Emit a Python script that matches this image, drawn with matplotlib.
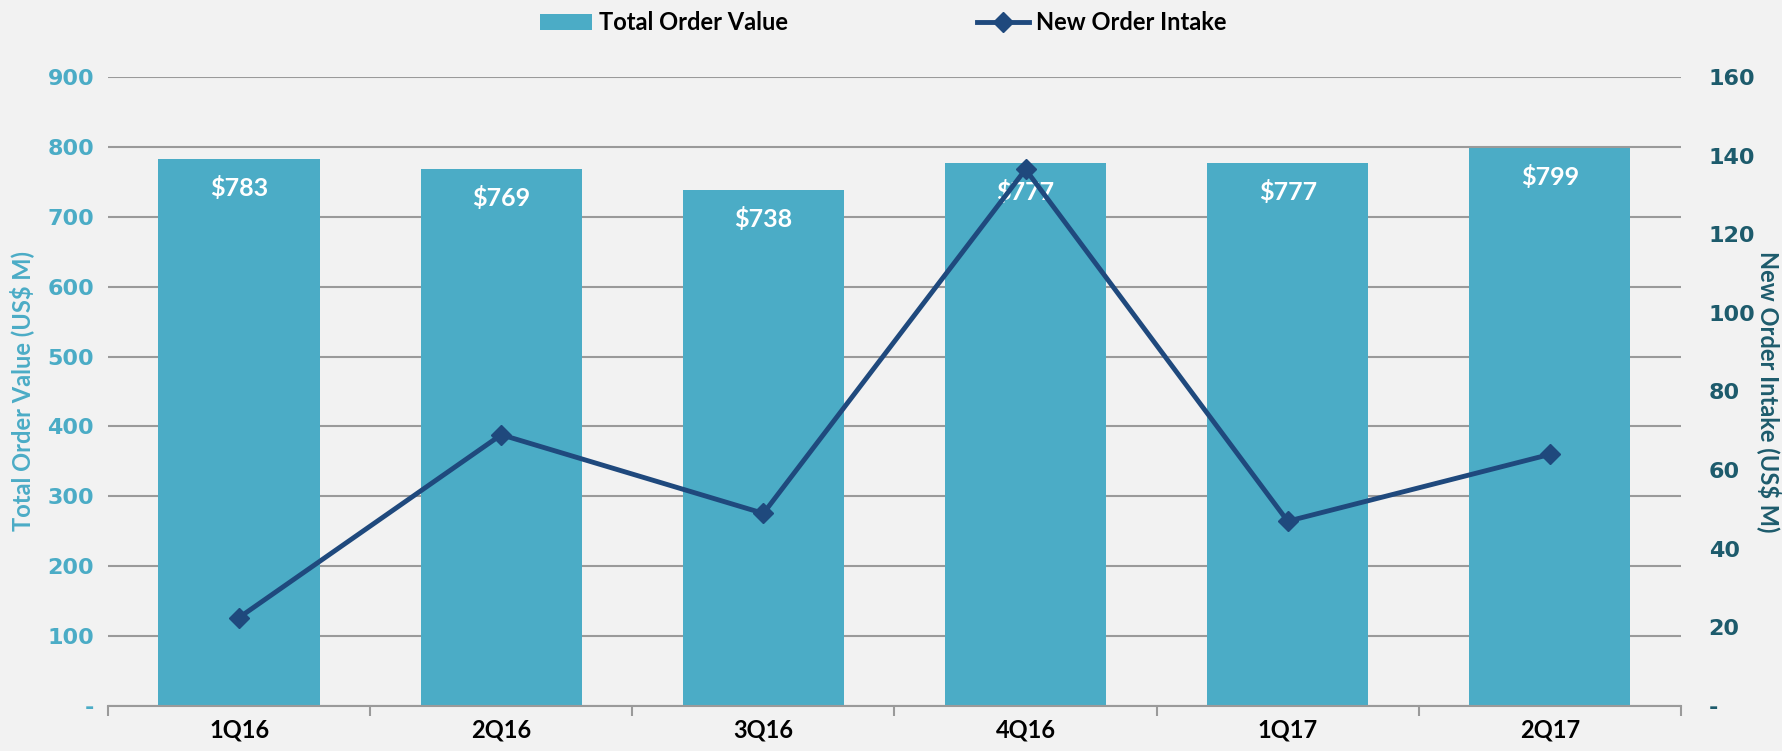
import matplotlib
matplotlib.use('Agg')
import matplotlib.pyplot as plt
from matplotlib.lines import Line2D
from matplotlib.patches import Patch
import numpy as np

quarters = ['1Q16', '2Q16', '3Q16', '4Q16', '1Q17', '2Q17']
total_order_value = [783, 769, 738, 777, 777, 799]
new_order_intake = [22.5, 69, 49, 136.5, 47, 64]
bar_labels = ['$783', '$769', '$738', '$777', '$777', '$799']

bar_col = '#4BACC6'
line_col = '#1F497D'
right_col = '#1D5B6C'
bg = '#F2F2F2'
narrow = ['Lato', 'DejaVu Sans']

fig = plt.figure(figsize=(17.82, 7.51), dpi=100, facecolor=bg)
ax = fig.add_axes([0.0606, 0.0599, 0.8827, 0.8376], facecolor=bg)
x = np.arange(len(quarters))

ax.bar(x, total_order_value, width=0.615, color=bar_col, zorder=2)
ax.set_ylim(0, 900)
ax.set_xlim(-0.5, len(quarters) - 0.5)
ax.set_yticks(np.arange(0, 901, 100))
ax.set_yticklabels(['-'] + [str(v) for v in range(100, 901, 100)],
                   color=bar_col, fontsize=16, fontweight='bold')
ax.yaxis.grid(True, color='#9A9A9A', lw=1.5, zorder=0)
ax.tick_params(axis='y', length=0, pad=10)
for s in ['left', 'right', 'top']:
    ax.spines[s].set_visible(False)
ax.spines['bottom'].set_color('#9A9A9A')
ax.spines['bottom'].set_linewidth(1.5)
ax.spines['bottom'].set_zorder(3)

ax.set_xticks(np.arange(-0.5, len(quarters), 1))
ax.set_xticklabels([])
ax.tick_params(axis='x', which='major', length=7, color='#9A9A9A', width=1.5)
ax.set_xticks(x, minor=True)
ax.set_xticklabels(quarters, minor=True, fontsize=17, fontweight='bold', family=narrow)
ax.tick_params(axis='x', which='minor', length=0, pad=9)

ax.set_ylabel('Total Order Value (US$ M)', color=bar_col, fontsize=17,
              fontweight='bold', family=narrow)
ax.yaxis.set_label_coords(-0.047, 0.5)

for xi, v, lab in zip(x, total_order_value, bar_labels):
    ax.annotate(lab, (xi, v), xytext=(0, -21), textcoords='offset points',
                ha='center', va='center', color='white', fontsize=18,
                fontweight='bold', family=narrow, zorder=4)

ax2 = ax.twinx()
ax2.plot(x, new_order_intake, color=line_col, lw=3.5, marker='D', markersize=10,
         zorder=5)
ax2.set_ylim(0, 160)
ax2.set_yticks(np.arange(0, 161, 20))
ax2.set_yticklabels(['-'] + [str(v) for v in range(20, 161, 20)],
                    color=right_col, fontsize=16, fontweight='bold')
ax2.tick_params(axis='y', length=0, pad=20)
for s in ax2.spines.values():
    s.set_visible(False)
ax2.set_ylabel('New Order Intake (US$ M)', color=right_col, fontsize=17,
               fontweight='bold', family=narrow, rotation=270, labelpad=22)
ax2.yaxis.set_label_coords(1.064, 0.5)

handles = [Patch(facecolor=bar_col, edgecolor='none'),
           Line2D([0], [0], color=line_col, lw=3.5, marker='D', markersize=10)]
fig.legend(handles, ['Total Order Value', 'New Order Intake'],
           loc='center', bbox_to_anchor=(0.4955, 0.97), ncol=2, frameon=False,
           prop={'family': narrow, 'weight': 'bold', 'size': 17},
           columnspacing=8, handlelength=2.2, handletextpad=0.3)

fig.savefig('out.png', dpi=100, facecolor=bg)
